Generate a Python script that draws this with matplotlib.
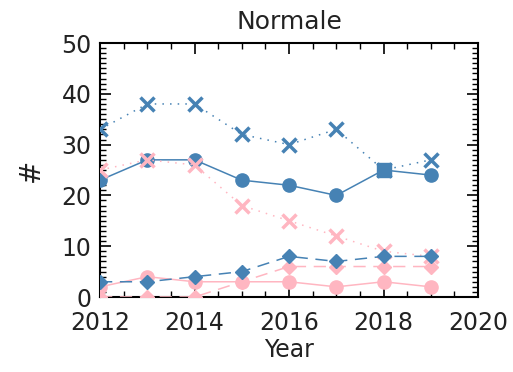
import numpy as np
import matplotlib.pyplot as plt
from matplotlib.ticker import MultipleLocator

years = [2012, 2013, 2014, 2015, 2016, 2017, 2018, 2019]
blue_x = [33, 38, 38, 32, 30, 33, 25, 27]
blue_circle = [23, 27, 27, 23, 22, 20, 25, 24]
blue_diamond = [3, 3, 4, 5, 8, 7, 8, 8]
blue_square_year = [2018]
blue_square = [25]
pink_x = [25, 27, 26, 18, 15, 12, 9, 8]
pink_circle = [2, 4, 3, 3, 3, 2, 3, 2]
pink_diamond = [0, 0, 0, 3, 6, 6, 6, 6]

blue = '#4682b4'
pink = '#ffb6c1'
txt = '#222222'

fig = plt.figure(figsize=(5.13, 3.72), dpi=100)
ax = fig.add_axes([0.195, 0.2016, 0.737, 0.6828])

ax.plot(years, blue_circle, '-', color=blue, lw=1.1, marker='o', ms=9.5, zorder=3)
ax.plot(years, pink_circle, '-', color=pink, lw=1.1, marker='o', ms=9.5, zorder=3)
ax.plot(years, pink_diamond, color=pink, lw=1.1, ls=(0, (8, 5)), marker='D', ms=7, zorder=4)
ax.plot(years, pink_x, color=pink, lw=1.1, ls=(0, (1, 4)), marker='x', ms=10, mew=2.5, zorder=4)
ax.plot(years, blue_x, color=blue, lw=1.1, ls=(0, (1, 4)), marker='x', ms=10, mew=2.5, zorder=5)
ax.plot(years, blue_diamond, color=blue, lw=1.1, ls=(0, (8, 5)), marker='D', ms=7, zorder=5)
ax.plot(blue_square_year, blue_square, 's', color=blue, ms=10, zorder=6)

ax.set_xlim(2012, 2020)
ax.set_ylim(0, 50)
ax.xaxis.set_major_locator(MultipleLocator(2))
ax.xaxis.set_minor_locator(MultipleLocator(0.5))
ax.yaxis.set_major_locator(MultipleLocator(10))
ax.yaxis.set_minor_locator(MultipleLocator(1))
ax.tick_params(which='both', direction='in', top=True, right=True, labelsize=17,
               labelcolor=txt)
ax.tick_params(axis='x', pad=10)
ax.tick_params(axis='y', pad=6)
ax.tick_params(which='major', length=8, width=1.2)
ax.tick_params(which='minor', length=4, width=1)
for s in ax.spines.values():
    s.set_linewidth(1.5)

ax.set_title('Normale', fontsize=18, pad=10, color=txt)
ax.set_xlabel('Year', fontsize=17, labelpad=2, color=txt)
ax.set_ylabel('#', fontsize=20, labelpad=12, color=txt)

fig.savefig('out.png', dpi=100)
